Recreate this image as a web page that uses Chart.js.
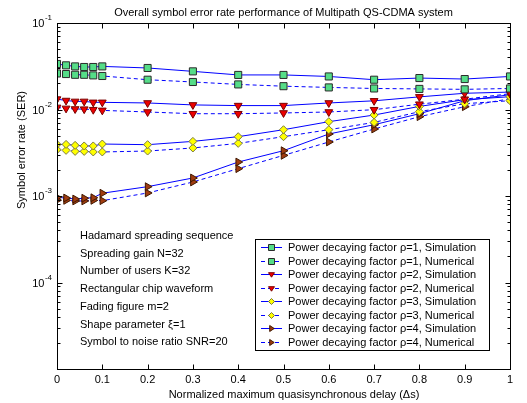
<!DOCTYPE html>
<html><head><meta charset="utf-8">
<script src="https://cdn.jsdelivr.net/npm/chart.js@4/dist/chart.umd.min.js"></script>
<style>html,body{margin:0;padding:0;background:#fff;overflow:hidden}#wrap{width:527px;height:403px}</style>
</head><body><div id="wrap"><canvas id="c" width="527" height="403"></canvas></div>
<script>
// ---- data ----
const delays = [0,0.02,0.04,0.06,0.08,0.1,0.2,0.3,0.4,0.5,0.6,0.7,0.8,0.9,1.0];
const rho1Sim = [0.0336,0.0324,0.0315,0.0310,0.0310,0.0315,0.0302,0.0276,0.0251,0.0251,0.0241,0.0221,0.0231,0.0225,0.0241];
const rho1Num = [0.0261,0.0257,0.0252,0.0252,0.0248,0.0244,0.0221,0.0208,0.0195,0.0186,0.0180,0.0175,0.0173,0.0171,0.0175];
const rho2Sim = [0.0132,0.0127,0.0124,0.0124,0.0121,0.0121,0.0119,0.0113,0.0111,0.0111,0.0119,0.0126,0.0140,0.0154,0.0159];
const rho2Num = [0.01057,0.0103,0.01014,0.0101,0.00995,0.00977,0.00936,0.00894,0.00894,0.00912,0.00936,0.00995,0.01152,0.01315,0.01524];
const rho3Sim = [0.00395,0.00395,0.00385,0.00379,0.00379,0.00399,0.00392,0.00428,0.00485,0.00584,0.00723,0.00863,0.01086,0.01298,0.01406];
const rho3Num = [0.00343,0.00337,0.00328,0.00328,0.00323,0.00323,0.00331,0.00359,0.00406,0.00485,0.00584,0.00709,0.00944,0.01167,0.01264];
const rho4Sim = [0.000964,0.000948,0.000923,0.000943,0.000955,0.001077,0.001282,0.001615,0.00247,0.00334,0.00521,0.00667,0.00894,0.01264,0.01483];
const rho4Num = [0.000894,0.000890,0.000876,0.000876,0.000890,0.000883,0.001084,0.001452,0.00207,0.00295,0.00421,0.00595,0.00826,0.01077,0.01333];

const xTicks = [0,0.1,0.2,0.3,0.4,0.5,0.6,0.7,0.8,0.9,1];
const xTickLabels = ['0','0.1','0.2','0.3','0.4','0.5','0.6','0.7','0.8','0.9','1'];
const yTickExps = [-1,-2,-3,-4];
const yTickLabels = ['10','10','10','10'];
const legendLabels = [
  'Power decaying factor \u03C1=1, Simulation','Power decaying factor \u03C1=1, Numerical',
  'Power decaying factor \u03C1=2, Simulation','Power decaying factor \u03C1=2, Numerical',
  'Power decaying factor \u03C1=3, Simulation','Power decaying factor \u03C1=3, Numerical',
  'Power decaying factor \u03C1=4, Simulation','Power decaying factor \u03C1=4, Numerical'];
const notes = ['Hadamard spreading sequence','Spreading gain N=32','Number of users K=32',
  'Rectangular chip waveform','Fading figure m=2','Shape parameter \u03BE=1','Symbol to noise ratio SNR=20'];
const titleText = 'Overall symbol error rate performance of Multipath QS-CDMA system';
const xTitle = 'Normalized maximum quasisynchronous delay (\u0394s)';
const yTitle = 'Symbol error rate (SER)';

// ---- styles ----
const FONT = '"Liberation Sans", Arial, sans-serif';
const styles = [
  {shape:'square', fill:'#55dd88', edge:'#2a2a2a', dash:[]},
  {shape:'square', fill:'#55dd88', edge:'#2a2a2a', dash:[4,3]},
  {shape:'tdown', fill:'#ee0000', edge:'#7a0000', dash:[]},
  {shape:'tdown', fill:'#ee0000', edge:'#7a0000', dash:[4,3]},
  {shape:'diamond', fill:'#ffff00', edge:'#7a7a40', dash:[]},
  {shape:'diamond', fill:'#ffff00', edge:'#7a7a40', dash:[4,3]},
  {shape:'tright', fill:'#a03c10', edge:'#401800', dash:[]},
  {shape:'tright', fill:'#a03c10', edge:'#401800', dash:[4,3]}
];
const series = [rho1Sim,rho1Num,rho2Sim,rho2Num,rho3Sim,rho3Num,rho4Sim,rho4Num];
const shapeMap = {square:['rect',0,5],tdown:['triangle',180,4.5],diamond:['rectRot',0,4],tright:['triangle',90,4.5]};

const datasets = series.map((s,i)=>{
  const st = styles[i], sm = shapeMap[st.shape];
  return {
    label: legendLabels[i],
    data: delays.map((d,k)=>({x:d,y:s[k]})),
    borderColor:'#0000ff', borderWidth:1, borderDash:st.dash, tension:0, fill:false,
    pointStyle:sm[0], pointRotation:sm[1], pointRadius:sm[2],
    pointBackgroundColor:st.fill, pointBorderColor:st.edge, pointBorderWidth:1
  };
});

function drawMarker(ctx, shape, x, y, r, fill, edge){
  ctx.save(); ctx.beginPath();
  if(shape==='square'){ ctx.rect(x-r,y-r,2*r,2*r); }
  else if(shape==='diamond'){ ctx.moveTo(x,y-r);ctx.lineTo(x+r,y);ctx.lineTo(x,y+r);ctx.lineTo(x-r,y);ctx.closePath(); }
  else if(shape==='tdown'){ ctx.moveTo(x-r,y-r*0.6);ctx.lineTo(x+r,y-r*0.6);ctx.lineTo(x,y+r*0.9);ctx.closePath(); }
  else { ctx.moveTo(x-r*0.6,y-r);ctx.lineTo(x-r*0.6,y+r);ctx.lineTo(x+r*0.9,y);ctx.closePath(); }
  ctx.fillStyle=fill; ctx.fill(); ctx.strokeStyle=edge; ctx.lineWidth=1; ctx.setLineDash([]); ctx.stroke(); ctx.restore();
}

const decor = {
  id:'decor',
  afterDraw(chart){
    const ctx = chart.ctx, a = chart.chartArea, xs = chart.scales.x, ys = chart.scales.y;
    ctx.save();
    ctx.strokeStyle='#000'; ctx.lineWidth=1; ctx.setLineDash([]);
    const L=Math.round(a.left)+0.5, R=Math.round(a.right)+0.5, T=Math.round(a.top)+0.5, B=Math.round(a.bottom)+0.5;
    ctx.strokeRect(L,T,R-L,B-T);
    ctx.beginPath();
    xTicks.forEach(v=>{ const px=Math.round(xs.getPixelForValue(v))+0.5; ctx.moveTo(px,B);ctx.lineTo(px,B-5);ctx.moveTo(px,T);ctx.lineTo(px,T+5); });
    for(let e=-5;e<=-1;e++){ for(let m=1;m<=9;m++){ const v=m*Math.pow(10,e); if(v>0.1000001) break;
      const py=Math.round(ys.getPixelForValue(v))+0.5, len=(m===1)?5:3;
      ctx.moveTo(L,py);ctx.lineTo(L+len,py);ctx.moveTo(R,py);ctx.lineTo(R-len,py); } }
    ctx.stroke();
    ctx.fillStyle='#000';
    // y tick labels with superscripts
    yTickExps.forEach((e,i)=>{
      const py=ys.getPixelForValue(Math.pow(10,e));
      const sup=String(e);
      ctx.font='8px '+FONT; const sw=ctx.measureText(sup).width;
      ctx.textAlign='left'; ctx.textBaseline='middle';
      const supX=52-sw; ctx.fillText(sup,supX,py-5);
      ctx.font='11px '+FONT; ctx.textAlign='right'; ctx.fillText(yTickLabels[i],supX-0.5,py+1);
    });
    // x tick labels
    ctx.font='11px '+FONT; ctx.textAlign='center'; ctx.textBaseline='middle';
    xTicks.forEach((v,i)=>{ ctx.fillText(xTickLabels[i], xs.getPixelForValue(v), 380); });
    // titles
    ctx.fillText(titleText, (a.left+a.right)/2, 13);
    ctx.fillText(xTitle, 294, 395);
    ctx.save(); ctx.translate(22,150); ctx.rotate(-Math.PI/2); ctx.fillText(yTitle,0,0); ctx.restore();
    // notes
    ctx.textAlign='left';
    notes.forEach((t,i)=>ctx.fillText(t, 80, 236+i*17.7));
    // legend
    const bx=255.5, by=239.5, bw=234, bh=111;
    ctx.fillStyle='#fff'; ctx.fillRect(bx,by,bw,bh); ctx.strokeStyle='#000'; ctx.strokeRect(bx,by,bw,bh);
    legendLabels.forEach((t,i)=>{
      const yy=Math.round(247.3+i*13.5)+0.5, st=styles[i];
      ctx.strokeStyle='#0000ff'; ctx.setLineDash(st.dash); ctx.beginPath(); ctx.moveTo(261,yy); ctx.lineTo(282,yy); ctx.stroke(); ctx.setLineDash([]);
      drawMarker(ctx, st.shape, 271.5, yy, 3, st.fill, st.edge);
      ctx.fillStyle='#000'; ctx.fillText(t, 288, yy);
    });
    ctx.restore();
  }
};

new Chart(document.getElementById('c'), {
  type:'line',
  data:{datasets},
  options:{
    responsive:false, animation:false, devicePixelRatio:1,
    layout:{padding:{top:23,right:17,left:0,bottom:0}},
    plugins:{legend:{display:false},title:{display:false},tooltip:{enabled:false}},
    scales:{
      x:{type:'linear',min:0,max:1,grid:{display:false,drawTicks:false},border:{display:false},
         ticks:{display:false},afterFit(s){s.height=34;}},
      y:{type:'logarithmic',min:1e-5,max:1e-1,grid:{display:false,drawTicks:false},border:{display:false},
         ticks:{display:false},afterFit(s){s.width=57;}}
    }
  },
  plugins:[decor]
});
</script></body></html>
